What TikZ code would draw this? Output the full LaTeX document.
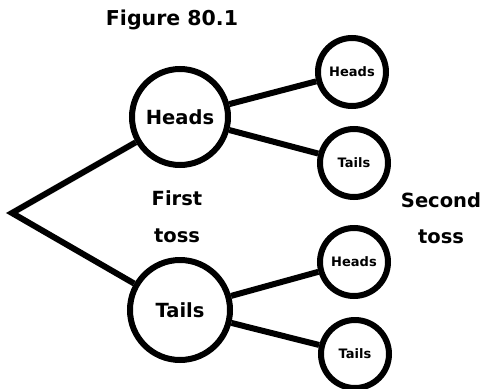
\documentclass[tikz,border=0pt]{standalone}
\usepackage{fontspec}
\setmainfont{DejaVu Sans}
\begin{document}
\begin{tikzpicture}[x=1pt,y=-1pt,
  branch/.style={line width=6pt},
  bigcoin/.style={circle,draw,line width=6pt,minimum size=96pt,inner sep=0pt,font=\bfseries\fontsize{19.5}{22}\selectfont},
  smallcoin/.style={circle,draw,line width=6pt,minimum size=68pt,inner sep=0pt,font=\bfseries\fontsize{13}{15}\selectfont},
  caption/.style={font=\bfseries\fontsize{19.5}{22}\selectfont}]
\useasboundingbox (0,0) rectangle (483,389);
\coordinate (root) at (12,213);
\node[bigcoin] (H) at (180,117) {Heads};
\node[bigcoin,minimum size=100pt] (T) at (180,310) {Tails};
\node[smallcoin] (HH) at (352,72) {Heads};
\node[smallcoin] (HT) at (354,163) {Tails};
\node[smallcoin] (TH) at (354,262) {Heads};
\node[smallcoin] (TT) at (355,354) {Tails};
\draw[branch,line join=miter] (H) -- (root) -- (T);
\draw[branch] (H) -- (HH);
\draw[branch] (H) -- (HT);
\draw[branch] (T) -- (TH);
\draw[branch] (T) -- (TT);
\node[caption,font=\bfseries\fontsize{20.5}{23}\selectfont] (fig) at (172,20) {Figure 80.1};
\node[caption] (first) at (177,198) {First};
\node[caption] (ftoss) at (177,236) {toss};
\node[caption] (second) at (441,200) {Second};
\node[caption] (stoss) at (441,237) {toss};
\end{tikzpicture}
\end{document}
